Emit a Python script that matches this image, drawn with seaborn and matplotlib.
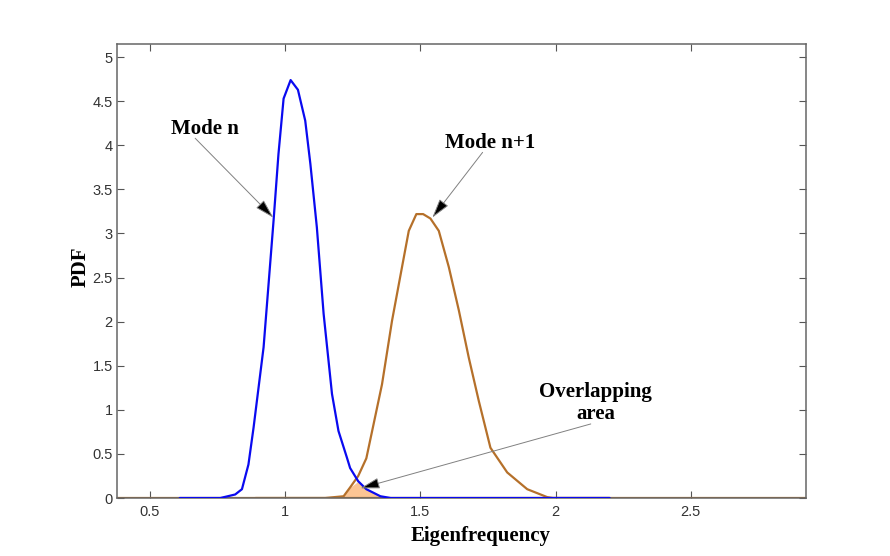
import numpy as np
import seaborn as sns
import matplotlib.pyplot as plt

# values
x_mode_n = [0.61, 0.76, 0.815, 0.84, 0.864, 0.883, 0.92, 0.957, 0.975, 0.994, 1.02, 1.047,
            1.074, 1.093, 1.117, 1.142, 1.173, 1.197, 1.228, 1.24, 1.27, 1.30, 1.352, 1.39, 2.2]
pdf_mode_n = [0, 0, 0.04, 0.1, 0.38, 0.8, 1.71, 3.15, 3.9, 4.53, 4.74, 4.63,
              4.28, 3.79, 3.07, 2.09, 1.18, 0.76, 0.46, 0.34, 0.19, 0.1, 0.02, 0, 0]

x_mode_n1 = [0.89, 1.148, 1.216, 1.24, 1.27, 1.30, 1.327, 1.358, 1.395, 1.432, 1.457, 1.485,
             1.51, 1.537, 1.568, 1.605, 1.642, 1.679, 1.716, 1.759, 1.821, 1.895, 1.969, 1.99, 2.2]
pdf_mode_n1 = [0, 0, 0.02, 0.12, 0.25, 0.45, 0.84, 1.29, 2.01, 2.62, 3.03, 3.22,
               3.22, 3.17, 3.03, 2.62, 2.13, 1.59, 1.1, 0.57, 0.29, 0.1, 0.01, 0, 0]

x_ticks = [0.5, 1, 1.5, 2, 2.5]
x_tick_labels = ["0.5", "1", "1.5", "2", "2.5"]
y_ticks = [0, 0.5, 1, 1.5, 2, 2.5, 3, 3.5, 4, 4.5, 5]
y_tick_labels = ["0", "0.5", "1", "1.5", "2", "2.5", "3", "3.5", "4", "4.5", "5"]

blue = "#0A0AF0"
brown = "#B5702A"
peach = "#FCC594"

sns.set_theme(style="white")
plt.rcParams["font.family"] = ["Liberation Sans", "DejaVu Sans"]
plt.rcParams["text.color"] = "black"

fig = plt.figure(figsize=(8.9, 5.56), dpi=100)
ax = fig.add_axes([0.1315, 0.1043, 0.7741, 0.8167])

# overlapping area = min of the two pdfs
grid = np.array(sorted(set(x_mode_n) | set(x_mode_n1)))
grid = grid[(grid >= 0.89) & (grid <= 2.2)]
overlap = np.minimum(np.interp(grid, x_mode_n, pdf_mode_n), np.interp(grid, x_mode_n1, pdf_mode_n1))
ax.fill_between(grid, 0, overlap, color=peach, lw=0, zorder=1)

ax.axhline(0, color=brown, lw=1.6, zorder=1.5)
sns.lineplot(x=x_mode_n1, y=pdf_mode_n1, ax=ax, color=brown, lw=1.6, sort=False, zorder=2)
sns.lineplot(x=x_mode_n, y=pdf_mode_n, ax=ax, color=blue, lw=1.6, sort=False, zorder=3)

ax.set_xlim(0.378, 2.926)
ax.set_ylim(0, 5.15)
ax.set_xticks(x_ticks)
ax.set_xticklabels(x_tick_labels)
ax.set_yticks(y_ticks)
ax.set_yticklabels(y_tick_labels)
ax.tick_params(direction="in", length=5, width=0.8, color="#555555", labelcolor="#333333",
               labelsize=10.5, top=True, right=True, bottom=True, left=True)
ax.tick_params(axis="x", pad=5)
ax.tick_params(axis="y", pad=3)
for s in ax.spines.values():
    s.set_color("#666666")
    s.set_linewidth(1.1)

serif = ["Liberation Serif", "DejaVu Serif"]
ax.set_xlabel("Eigenfrequency", fontsize=15, fontweight="bold", family=serif, color="black")
ax.set_ylabel("PDF", fontsize=15, fontweight="bold", family=serif, color="black")
ax.xaxis.set_label_coords(0.528, -0.062)
ax.yaxis.set_label_coords(-0.038, 0.509)

arrow = dict(arrowstyle="-|>,head_length=1.0,head_width=0.28", ec="#808080", fc="black",
             lw=0.7, shrinkA=0, shrinkB=0)
ax.annotate("", xy=(0.956, 3.18), xytext=(0.667, 4.08), arrowprops=arrow)
ax.annotate("", xy=(1.544, 3.18), xytext=(1.73, 3.92), arrowprops=arrow)
ax.annotate("", xy=(1.278, 0.11), xytext=(2.13, 0.84), arrowprops=arrow)

label_style = dict(ha="center", va="center", fontsize=15, fontweight="bold", family=serif, color="black")
ax.text(0.704, 4.18, "Mode n", **label_style)
ax.text(1.756, 4.03, "Mode n+1", **label_style)
ax.text(2.148, 1.08, "Overlapping\narea", linespacing=1.1, **label_style)

fig.savefig("out.png", dpi=100)
